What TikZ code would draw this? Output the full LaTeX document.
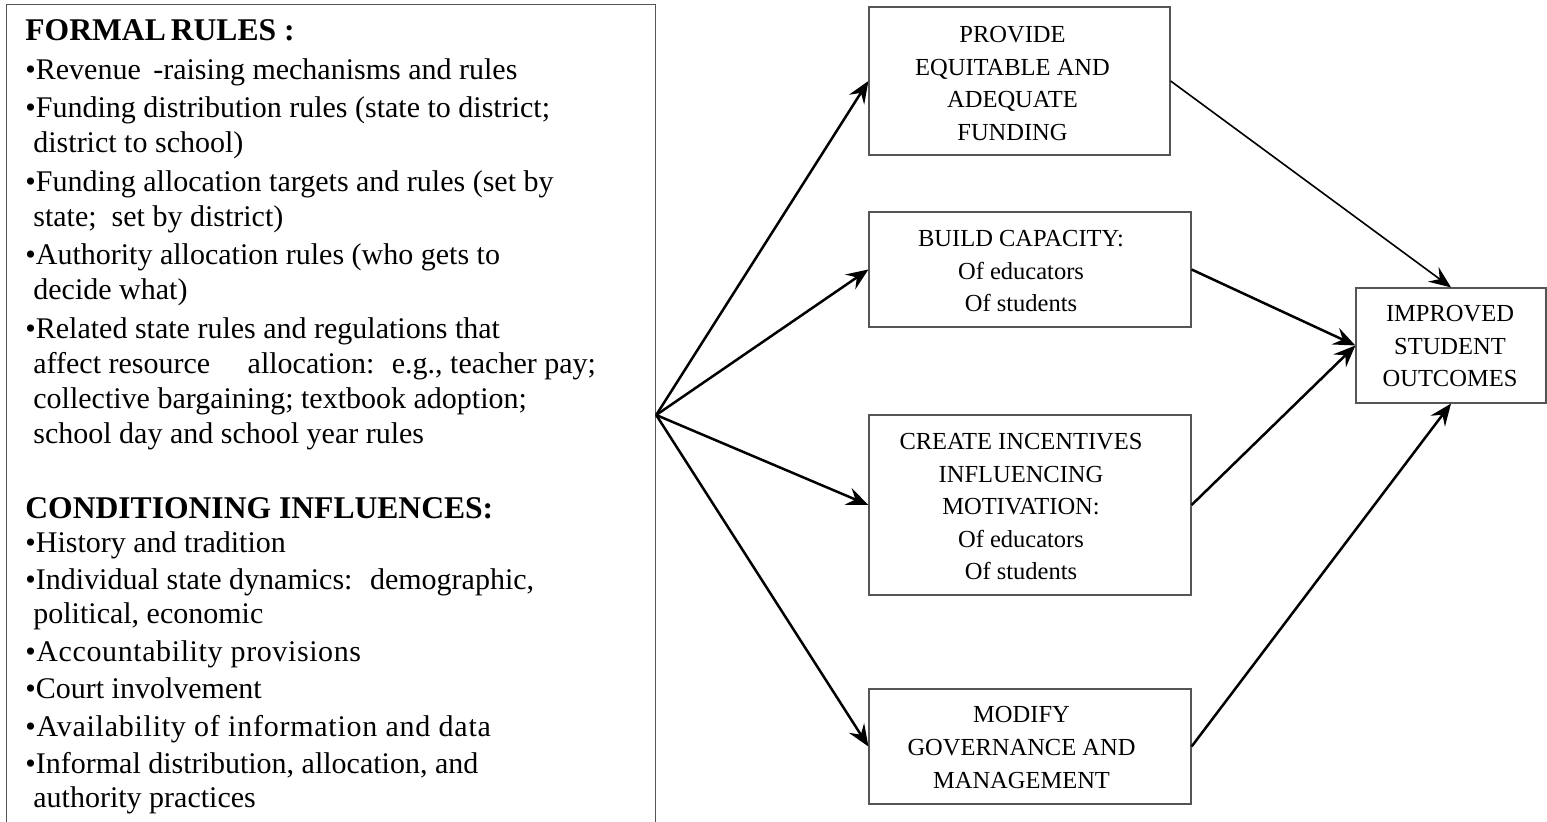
\documentclass[tikz,border=0pt]{standalone}
\usepackage{fontspec}
\setmainfont{Liberation Serif}
\newfontfamily\spacedA[LetterSpace=2.5]{Liberation Serif}
\newfontfamily\spacedB[LetterSpace=2.0]{Liberation Serif}
\usetikzlibrary{arrows.meta}
\definecolor{boxgray}{HTML}{555555}
\tikzset{
  stepbox/.style={draw=boxgray, line width=0.6pt, inner sep=0pt},
  boxtext/.style={anchor=base, inner sep=0pt, font=\fontsize{12.25}{16.25}\selectfont},
  arr/.style={line width=1.25pt, -{Stealth[length=11pt,width=9pt,inset=4pt]}},
  thinarr/.style={line width=0.8pt, -{Stealth[length=11pt,width=9pt,inset=4pt]}}
}
\newcommand{\ci}{\hspace*{4pt}}
\newcommand{\hd}[1]{{\fontsize{15.8}{17}\selectfont\bfseries #1}}
\newcommand{\lines}[1]{\begin{tabular}[t]{@{}c@{}}#1\end{tabular}}
\begin{document}
\begin{tikzpicture}[x=0.5pt,y=-0.5pt]
\useasboundingbox (0,0) rectangle (1547,822);
\clip (0,0) rectangle (1547,822);
% left box (open at the bottom of the picture)
\node[draw=boxgray, line width=0.6pt, anchor=north west, minimum width=324.5pt,
      minimum height=430pt, inner sep=0pt] (left) at (6,4) {};
\node[anchor=base west, inner sep=0pt] (lefttext) at (25,41) {\parbox[t]{320pt}{%
\fontsize{15}{17}\selectfont\raggedright
\hd{FORMAL\hspace{2.5pt}RULES :}\\[2.25pt]
•Revenue \,-raising mechanisms and rules\\[2.25pt]
•Funding distribution rules (state to district;\\[0.5pt]
\ci district to school)\\[2.25pt]
•Funding allocation targets and rules (set by\\[0.5pt]
\ci state; \ set by district)\\[2.25pt]
•Authority allocation rules (who gets to\\[0.5pt]
\ci decide what)\\[2.25pt]
•Related state rules and regulations that\\[0.5pt]
\ci affect resource \quad allocation: \ e.g., teacher pay;\\[0.5pt]
\ci collective bargaining; textbook adoption;\\[0.5pt]
\ci school day and school year rules\\[20.5pt]
\hd{CONDITIONING INFLUENCES:}\\
•History and tradition\\[1.75pt]
•Individual state dynamics: \ demographic,\\
\ci political, economic\\[1.75pt]
{\spacedB •Accountability provisions}\\[1.75pt]
•Court involvement\\[1.75pt]
{\spacedA •Availability of information and data}\\[1.75pt]
•Informal distribution, allocation, and\\
\ci authority practices}};
\coordinate (src) at (left.east |- 0,415);
% middle boxes
\node[stepbox, minimum width=150.5pt, minimum height=74pt] (b1) at (1019.5,81) {};
\node[stepbox, minimum width=161pt, minimum height=57.5pt] (b2) at (1030,269.5) {};
\node[stepbox, minimum width=161pt, minimum height=90pt] (b3) at (1030,505) {};
\node[stepbox, minimum width=161pt, minimum height=57.5pt] (b4) at (1030,746.5) {};
\node[stepbox, minimum width=95pt, minimum height=57.5pt] (b5) at (1451,345.5) {};
% box texts
\node[boxtext] (t1) at (1012.5,43) {\lines{PROVIDE\\EQUITABLE AND\\ADEQUATE\\FUNDING}};
\node[boxtext] (t2) at (1021,247) {\lines{BUILD CAPACITY:\\Of educators\\Of students}};
\node[boxtext] (t3) at (1021,450) {\lines{CREATE INCENTIVES\\INFLUENCING\\MOTIVATION:\\Of educators\\Of students}};
\node[boxtext] (t4) at (1021.5,723) {\lines{MODIFY\\GOVERNANCE AND\\MANAGEMENT}};
\node[boxtext] (t5) at (1450,322) {\lines{IMPROVED\\STUDENT\\OUTCOMES}};
% connectors
\draw[arr] (src) -- (b1.west);
\draw[arr] (src) -- (b2.west);
\draw[arr] (src) -- (b3.west);
\draw[arr] (src) -- (b4.west);
\draw[thinarr] (b1.east) -- (b5.north);
\draw[arr] (b2.east) -- (b5.west);
\draw[arr] (b3.east) -- (b5.west);
\draw[arr] (b4.east) -- (b5.south);
\end{tikzpicture}
\end{document}
